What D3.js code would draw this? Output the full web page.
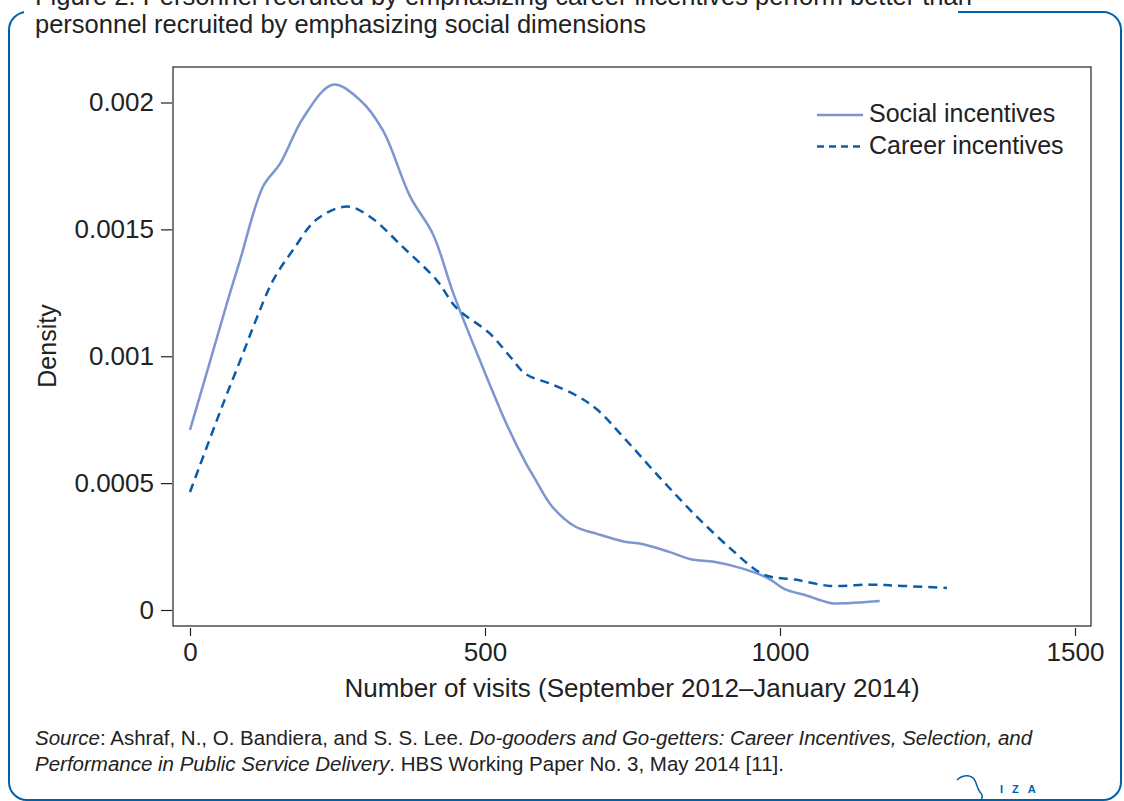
<!DOCTYPE html>
<html>
<head>
<meta charset="utf-8">
<script src="https://cdn.jsdelivr.net/npm/d3@7"></script>
<style>
	body { margin: 0; background: #fff; }
	svg { display: block; }
	text { font-family: "Liberation Sans", Arial, sans-serif; }
</style>
</head>
<body>
<svg id="chart" width="1124" height="801"></svg>
<script>
// values
var socialX = [0, 34, 64, 85, 124, 153, 192, 242, 288, 327, 373, 412, 446, 492, 539, 569, 584, 613, 652, 690, 735, 766, 811, 849, 888, 934, 979, 1010, 1041, 1085, 1115, 1169];
var socialY = [0.00071, 0.00098, 0.00122, 0.00138, 0.00167, 0.00176, 0.00194, 0.00207, 0.00201, 0.00189, 0.00163, 0.00148, 0.00125, 0.00098, 0.00072, 0.00058, 0.00052, 0.00041, 0.00033, 0.00030, 0.00027, 0.00026, 0.00023, 0.00020, 0.00019, 0.000165, 0.000126, 0.00008, 0.00006, 0.000028, 0.000027, 0.000035];
var careerX = [0, 59, 88, 113, 141, 175, 215, 266, 305, 361, 418, 452, 508, 542, 569, 613, 659, 690, 735, 797, 858, 919, 964, 986, 1025, 1085, 1154, 1207, 1283];
var careerY = [0.000465, 0.00083, 0.001, 0.00115, 0.0013, 0.00142, 0.00154, 0.00159, 0.00155, 0.00143, 0.0013, 0.00119, 0.00109, 0.001, 0.00093, 0.00089, 0.00084, 0.00079, 0.00068, 0.00052, 0.00037, 0.000236, 0.00015, 0.00013, 0.00012, 0.000095, 0.0001, 0.000095, 0.000087];
var xTicks = [0, 500, 1000, 1500];
var yTicks = [0, 0.0005, 0.001, 0.0015, 0.002];
var yTickLabels = ['0', '0.0005', '0.001', '0.0015', '0.002'];
var seriesNames = ['Social incentives', 'Career incentives'];

var svg = d3.select('#chart');
var blue = '#0061ab';
var ink = '#222';

// frame round the whole figure
svg.append('rect')
	.attr('x', 9).attr('y', 12)
	.attr('width', 1112).attr('height', 788)
	.attr('rx', 18).attr('ry', 18)
	.attr('fill', 'none')
	.attr('stroke', blue)
	.attr('stroke-width', 2);
// title sits over the top edge
svg.append('rect')
	.attr('x', 24).attr('y', 0)
	.attr('width', 934).attr('height', 40)
	.attr('fill', '#fff');

svg.append('text')
	.attr('x', 35).attr('y', 5)
	.attr('font-size', 25.5).attr('fill', ink)
	.text('Figure 2. Personnel recruited by emphasizing career incentives perform better than');
svg.append('text')
	.attr('x', 35).attr('y', 33)
	.attr('font-size', 25.5).attr('fill', ink)
	.text('personnel recruited by emphasizing social dimensions');

var x = d3.scaleLinear().domain([0, 1500]).range([190, 1075]);
var y = d3.scaleLinear().domain([0, 0.002]).range([610, 102.5]);

// plot area box
svg.append('rect')
	.attr('x', 173).attr('y', 67)
	.attr('width', 918).attr('height', 559)
	.attr('fill', 'none')
	.attr('stroke', ink)
	.attr('stroke-width', 1.2);

var xAxis = svg.append('g')
	.attr('transform', 'translate(0,628)')
	.call(d3.axisBottom(x).tickValues(xTicks).tickSize(8).tickPadding(7)
		.tickFormat(d3.format('d')));
var yAxis = svg.append('g')
	.attr('transform', 'translate(172,0)')
	.call(d3.axisLeft(y).tickValues(yTicks).tickSize(11).tickPadding(7)
		.tickFormat(function(d, i) { return yTickLabels[i]; }));
[xAxis, yAxis].forEach(function(ax) {
	ax.select('.domain').remove();
	ax.selectAll('line').attr('stroke', ink).attr('stroke-width', 1.2);
	ax.selectAll('text')
		.attr('font-family', '"Liberation Sans", Arial, sans-serif')
		.attr('font-size', 26)
		.attr('fill', ink);
});

svg.append('text')
	.attr('x', 632).attr('y', 697)
	.attr('text-anchor', 'middle')
	.attr('font-size', 26).attr('fill', ink)
	.text('Number of visits (September 2012\u2013January 2014)');
svg.append('text')
	.attr('transform', 'translate(56,346) rotate(-90)')
	.attr('text-anchor', 'middle')
	.attr('font-size', 25).attr('fill', ink)
	.text('Density');

var line = d3.line()
	.x(function(d) { return x(d[0]); })
	.y(function(d) { return y(d[1]); })
	.curve(d3.curveCatmullRom);

var series = [
	{ name: seriesNames[0], pts: d3.zip(socialX, socialY), color: '#7d96cf', dash: null },
	{ name: seriesNames[1], pts: d3.zip(careerX, careerY), color: '#0a5cab', dash: '9,6' }
];

svg.selectAll('path.curve').data(series).enter().append('path')
	.attr('class', 'curve')
	.attr('d', function(s) { return line(s.pts); })
	.attr('fill', 'none')
	.attr('stroke', function(s) { return s.color; })
	.attr('stroke-width', 2.5)
	.attr('stroke-dasharray', function(s) { return s.dash; });

// legend
var legend = svg.selectAll('g.legend').data(series).enter().append('g')
	.attr('class', 'legend')
	.attr('transform', function(s, i) { return 'translate(817,' + (115 + i * 31.5) + ')'; });
legend.append('line')
	.attr('x1', 0).attr('x2', 46)
	.attr('stroke', function(s) { return s.color; })
	.attr('stroke-width', 2.5)
	.attr('stroke-dasharray', function(s) { return s.dash ? '7,5' : null; });
legend.append('text')
	.attr('x', 52).attr('y', 7)
	.attr('font-size', 25).attr('fill', ink)
	.text(function(s) { return s.name; });

// source note
var src1 = svg.append('text')
	.attr('x', 35).attr('y', 745).attr('font-size', 20.5).attr('fill', ink);
src1.append('tspan').attr('font-style', 'italic').text('Source');
src1.append('tspan').text(': Ashraf, N., O. Bandiera, and S. S. Lee. ');
src1.append('tspan').attr('font-style', 'italic').text('Do-gooders and Go-getters: Career Incentives, Selection, and');
var src2 = svg.append('text')
	.attr('x', 35).attr('y', 771).attr('font-size', 20.5).attr('fill', ink);
src2.append('tspan').attr('font-style', 'italic').text('Performance in Public Service Delivery');
src2.append('tspan').text('. HBS Working Paper No. 3, May 2014 [11].');

// IZA mark
svg.append('path')
	.attr('d', 'M957,780 C962,775 970,774 974,779 C977,783 977,789 980,792 C983,795 983,798 980,801')
	.attr('fill', 'none')
	.attr('stroke', blue)
	.attr('stroke-width', 1.5);
svg.append('text')
	.attr('x', 1000).attr('y', 793)
	.attr('font-weight', 'bold')
	.attr('font-size', 11)
	.attr('letter-spacing', 9)
	.attr('fill', blue)
	.text('IZA');
</script>
</body>
</html>
